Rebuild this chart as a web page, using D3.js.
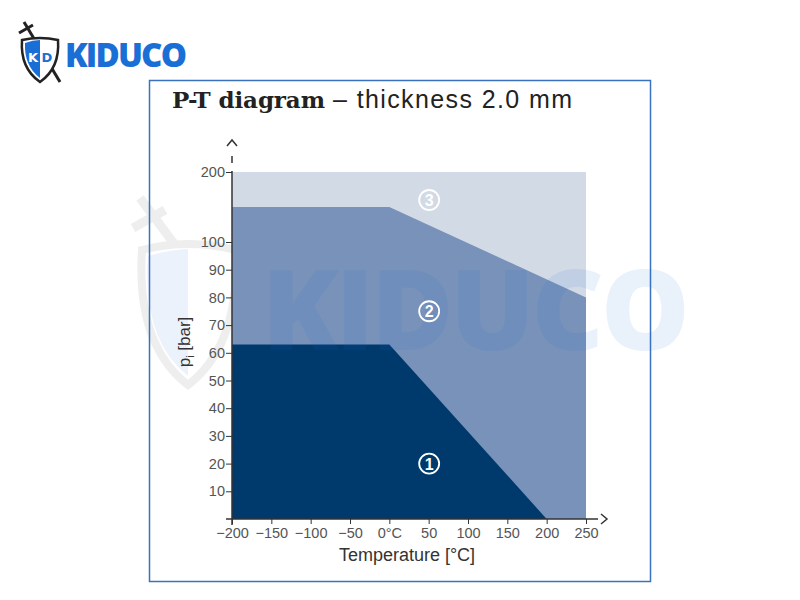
<!DOCTYPE html>
<html><head><meta charset="utf-8">
<script src="https://cdn.jsdelivr.net/npm/d3@7"></script>
<style>body{margin:0;background:#fff}svg{display:block}</style>
</head><body>
<svg id="c" width="800" height="600"></svg>
<script>
const xTicks = [-200,-150,-100,-50,0,50,100,150,200,250];
const xTickLabels = ["\u2212200","\u2212150","\u2212100","\u221250","0°C","50","100","150","200","250"];
const yTicks = [10,20,30,40,50,60,70,80,90,100,200];
const zone3 = [[-200,0],[-200,200],[250,200],[250,0]];
const zone2 = [[-200,0],[-200,150],[0,150],[250,80],[250,0]];
const zone1 = [[-200,0],[-200,63],[0,63],[200,0]];
const zoneLabels = [{n:"3",t:50,p:160},{n:"2",t:50,p:75},{n:"1",t:50,p:20}];
const zoneColors = ["#d2dae6","#7892ba","#003a6c"];

const svg = d3.select("#c");
const x = d3.scaleLinear().domain([-200,250]).range([232,586]);
const y = d3.scaleLinear().domain([0,100,200]).range([519,242,172]);

// watermark shield (behind chart)
const ws = svg.append("g").attr("opacity",0.12);
ws.append("line").attr("x1",140).attr("y1",198).attr("x2",175).attr("y2",245).attr("stroke","#777").attr("stroke-width",9);
ws.append("line").attr("x1",133).attr("y1",228).attr("x2",165).attr("y2",210).attr("stroke","#777").attr("stroke-width",9);
ws.append("path").attr("d","M142,250 Q188,238 236,250 Q240,345 188,385 Q136,345 142,250 Z").attr("fill","none").attr("stroke","#777").attr("stroke-width",8);
ws.append("path").attr("d","M148,256 Q168,250 188,249 L188,376 Q142,340 148,256 Z").attr("fill","#6c9ae0");

// logo
const logo = svg.append("g");
logo.append("line").attr("x1",24).attr("y1",22).attr("x2",60).attr("y2",82).attr("stroke","#222").attr("stroke-width",3);
logo.append("line").attr("x1",19).attr("y1",33).attr("x2",33).attr("y2",25).attr("stroke","#222").attr("stroke-width",3);
logo.append("path").attr("d","M22,40 Q40,36 58,40 Q60,68 40,82 Q20,68 22,40 Z").attr("fill","#fff").attr("stroke","#222").attr("stroke-width",2.5);
logo.append("path").attr("d","M25,43 Q33,40 40,40 L40,78 Q24,66 25,43 Z").attr("fill","#1a6fd6");
logo.append("path").attr("d","M40,40 Q48,40 55,43 Q56,66 40,78 Z").attr("fill","#ffffff");
logo.append("text").attr("x",33).attr("y",62).attr("text-anchor","middle").attr("font-family","DejaVu Sans").attr("font-weight","bold").attr("font-size",13).attr("fill","#fff").text("K");
logo.append("text").attr("x",47).attr("y",62).attr("text-anchor","middle").attr("font-family","DejaVu Sans").attr("font-weight","bold").attr("font-size",13).attr("fill","#1a6fd6").text("D");
logo.append("text").attr("x",65).attr("y",67).attr("font-family","Open Sans, DejaVu Sans").attr("font-weight","800").attr("font-size",33).attr("fill","#1a6fd6").attr("textLength",122).text("KIDUCO");

// frame
svg.append("rect").attr("x",149.5).attr("y",80.5).attr("width",501).attr("height",501).attr("fill","none").attr("stroke","#3a72bf").attr("stroke-width",1.5);

// title
svg.append("text").attr("x",172).attr("y",108).attr("font-family","DejaVu Serif").attr("font-weight","bold").attr("font-size",23).attr("fill","#222").attr("textLength",153).text("P-T diagram");
svg.append("text").attr("x",333).attr("y",108).attr("font-family","Liberation Sans, Arial").attr("font-size",25).attr("fill","#222").attr("textLength",239).text("\u2013 thickness 2.0 mm");

// zones
const line = d3.line().x(d=>x(d[0])).y(d=>y(d[1]));
[zone3,zone2,zone1].forEach((z,i)=>{
  svg.append("path").attr("d",line(z)+"Z").attr("fill",zoneColors[i]);
});

// axes
const axCol = "#333";
const xAxis = svg.append("g").attr("transform","translate(0,519)")
  .call(d3.axisBottom(x).tickValues(xTicks).tickFormat((d,i)=>xTickLabels[i]).tickSize(5).tickPadding(4));
xAxis.select(".domain").remove();
xAxis.selectAll("line").attr("stroke",axCol);
xAxis.selectAll("text").attr("font-family","Liberation Sans, Arial").attr("font-size",14.5).attr("fill","#555");
svg.append("line").attr("x1",226).attr("x2",598).attr("y1",519).attr("y2",519).attr("stroke",axCol).attr("stroke-width",1.5);
svg.append("path").attr("d","M601,514 L607,519 L601,524").attr("fill","none").attr("stroke",axCol).attr("stroke-width",1.5);

const yAxis = svg.append("g").attr("transform","translate(232,0)")
  .call(d3.axisLeft(y).tickValues(yTicks).tickSize(6).tickPadding(1));
yAxis.select(".domain").remove();
yAxis.selectAll("line").attr("stroke",axCol);
yAxis.selectAll("text").attr("font-family","Liberation Sans, Arial").attr("font-size",14.5).attr("fill","#555");
svg.append("line").attr("x1",232).attr("x2",232).attr("y1",525).attr("y2",171).attr("stroke",axCol).attr("stroke-width",1.5);
svg.append("line").attr("x1",232).attr("x2",232).attr("y1",163).attr("y2",156).attr("stroke",axCol).attr("stroke-width",1.5);
svg.append("path").attr("d","M227,146 L232,140 L237,146").attr("fill","none").attr("stroke",axCol).attr("stroke-width",1.5);

// axis titles
svg.append("text").attr("x",407).attr("y",561).attr("text-anchor","middle").attr("font-family","Liberation Sans, Arial").attr("font-size",18).attr("fill","#333").text("Temperature [°C]");
const yl = svg.append("text").attr("transform","translate(190,342) rotate(-90)").attr("text-anchor","middle").attr("font-family","Liberation Sans, Arial").attr("font-size",17).attr("fill","#333");
yl.append("tspan").text("p");
yl.append("tspan").attr("font-size",11).attr("dy",4).text("i");
yl.append("tspan").attr("dy",-4).text(" [bar]");

// watermark text
svg.append("text").attr("x",262).attr("y",350).attr("font-family","Open Sans, DejaVu Sans").attr("font-weight","800").attr("font-size",112).attr("fill","#1a6fd6").attr("opacity",0.09).attr("textLength",428).text("KIDUCO");

// zone labels
zoneLabels.forEach(d=>{
  const g = svg.append("g").attr("transform",`translate(${x(d.t)+0.5},${y(d.p)})`);
  g.append("circle").attr("r",10).attr("fill","none").attr("stroke","#fff").attr("stroke-width",1.8);
  g.append("text").attr("y",6).attr("text-anchor","middle").attr("font-family","Liberation Sans, Arial").attr("font-weight","bold").attr("font-size",16).attr("fill","#fff").text(d.n);
});
</script>
</body></html>
